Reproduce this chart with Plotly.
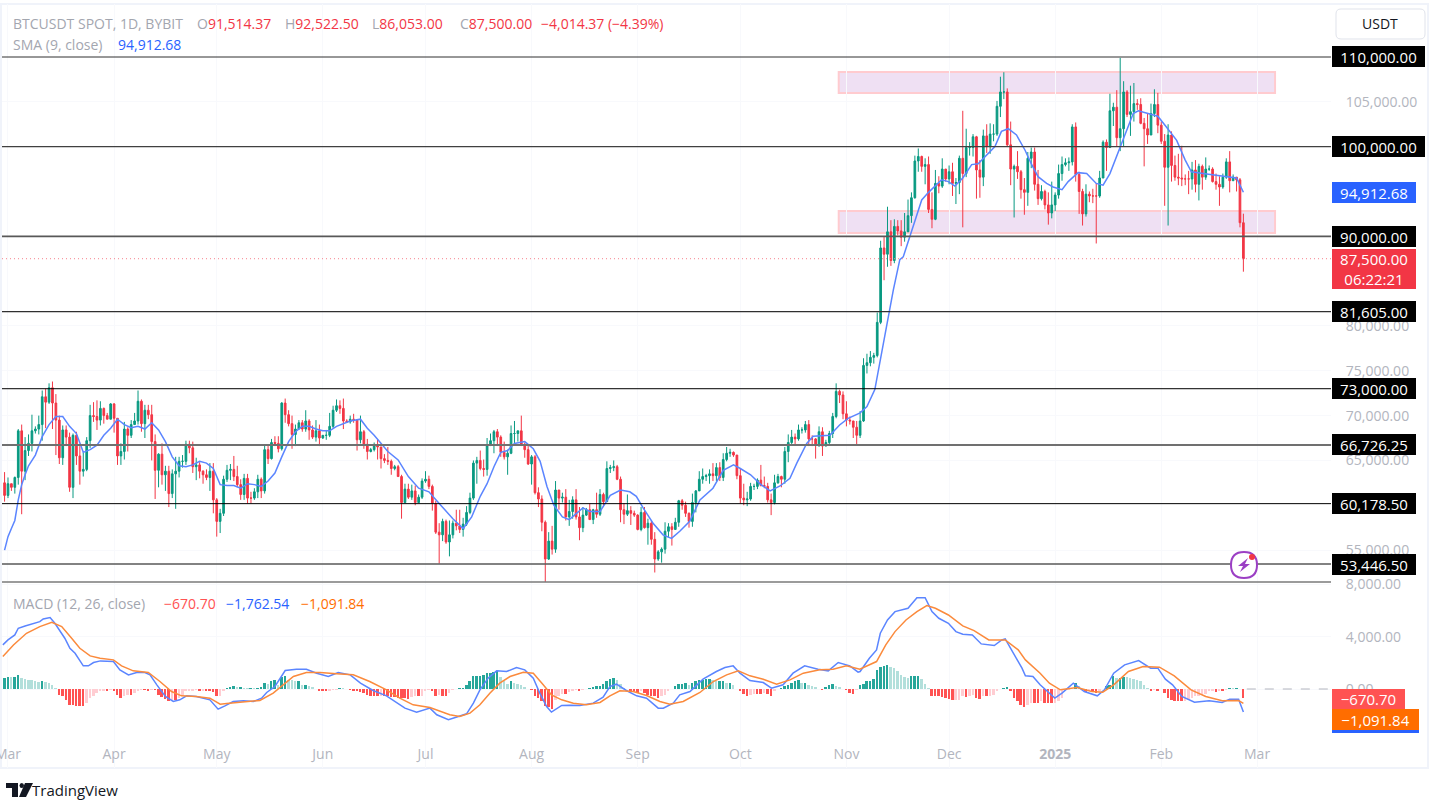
import pandas as pd
import plotly.graph_objects as go

START = pd.Timestamp("2024-03-01")
# Candle values, in thousands of USDT, one row per month, first value = 2024-02-29
opens_k = [62.5,
 61.1,62.4,62.0,63.1,68.3,63.8,66.1,66.9,68.3,68.5,69.0,72.1,71.5,73.1,71.4,69.5,65.3,68.4,67.6,62.0,67.8,65.5,63.8,64.0,67.2,70.0,69.9,69.5,70.8,70.0,69.6,
 71.3,69.7,65.5,66.0,68.5,67.8,69.0,69.4,71.6,69.1,70.6,70.1,67.1,63.9,65.7,63.4,63.8,61.3,63.5,63.8,64.9,64.9,66.8,66.4,64.3,64.5,63.8,63.4,63.1,63.8,
 60.6,58.2,59.1,62.9,63.9,64.0,63.2,62.3,61.2,63.0,60.8,60.8,61.5,62.9,61.6,66.2,65.2,67.0,66.9,66.3,71.4,70.1,69.1,67.9,68.5,69.2,68.5,69.4,68.4,67.6,68.3,
 67.5,67.8,67.8,68.8,70.6,71.1,70.8,69.4,69.3,69.6,69.5,67.3,68.2,66.8,66.0,66.2,66.7,66.5,65.2,65.0,64.9,64.1,64.3,63.2,60.3,61.8,60.9,61.6,60.3,60.9,
 62.7,62.9,62.1,60.2,57.0,56.7,58.2,55.9,56.7,58.0,57.7,57.3,57.9,59.2,60.8,64.7,65.0,64.1,64.0,66.7,67.2,68.2,67.6,65.9,65.4,65.8,68.0,68.0,68.3,66.8,66.2,
 64.6,65.4,61.4,60.7,58.1,54.0,56.0,55.1,61.7,60.8,60.9,58.7,59.3,60.6,58.7,57.5,58.9,59.5,58.4,59.5,59.0,61.2,60.4,64.1,64.2,64.3,62.9,59.5,59.0,59.4,59.1,
 58.9,57.3,59.2,57.5,58.0,56.2,54.0,54.8,55.1,57.1,57.6,57.3,58.1,60.5,60.0,59.1,58.2,60.3,61.6,62.9,63.2,63.3,63.5,63.3,64.2,63.1,65.1,65.8,65.9,65.6,
 63.3,60.8,60.6,60.7,62.1,62.1,62.8,62.2,62.1,60.6,60.3,62.5,63.2,62.9,66.0,67.0,67.6,67.4,68.4,68.4,69.0,67.4,67.4,66.7,68.2,66.6,67.0,68.0,69.9,72.7,72.3,
 70.2,69.5,69.4,68.7,67.8,69.4,75.6,75.9,76.5,76.7,80.4,88.7,88.0,90.5,87.3,91.1,90.6,89.9,90.5,92.3,94.3,98.4,98.9,97.8,98.0,93.0,91.9,95.9,95.6,97.5,
 96.4,97.2,95.9,96.0,98.7,97.0,99.9,99.9,101.1,97.4,96.6,101.2,100.0,101.4,101.4,104.5,106.1,106.1,100.2,97.5,97.8,97.2,95.2,94.9,98.7,99.4,95.8,94.2,95.0,93.5,92.6,
 93.5,94.6,97.0,98.0,98.2,98.3,102.2,96.9,95.0,92.5,94.7,94.5,94.5,94.5,96.5,100.5,99.9,104.0,104.4,101.0,102.0,106.1,103.6,103.9,104.8,104.7,102.6,102.0,101.3,103.7,104.7,
 102.4,100.6,97.7,101.3,97.9,96.6,96.5,96.4,96.4,96.4,97.4,95.8,97.8,96.6,97.5,97.5,96.1,95.8,95.5,96.6,98.3,96.2,96.6,96.3,91.514]
highs_k = [63.7,
 63.1,62.4,63.2,68.5,69.0,67.6,67.9,70.1,68.8,70.0,72.8,73.0,73.6,73.8,72.4,70.0,68.9,68.9,68.1,68.0,68.2,66.6,65.9,67.6,71.2,71.5,71.7,71.6,70.9,70.3,71.4,
 71.4,69.7,66.9,69.3,68.7,69.5,70.3,72.8,71.8,71.2,71.2,71.2,67.9,65.8,66.9,64.4,64.4,64.0,65.4,65.4,65.6,67.2,67.2,67.1,65.3,64.8,63.9,64.0,64.7,64.7,
 60.8,59.6,63.3,64.5,64.6,65.5,64.4,62.9,63.5,63.5,61.5,61.9,63.4,63.1,66.7,66.8,67.4,67.7,67.7,71.5,71.9,70.6,70.0,69.0,69.5,69.5,70.6,69.6,68.9,69.5,69.0,
 67.8,68.4,70.3,71.1,71.8,71.7,71.9,69.6,70.0,70.2,69.6,70.0,68.4,67.4,66.4,67.0,67.3,66.1,65.7,66.5,65.1,64.5,64.5,63.4,62.4,62.4,62.3,62.2,61.2,63.0,
 63.8,63.3,62.3,60.5,58.0,58.5,58.4,58.3,58.3,59.5,59.5,58.6,59.9,61.4,65.0,65.4,66.1,65.1,67.5,68.0,68.4,68.5,67.8,67.1,66.2,68.9,69.4,68.3,70.0,67.0,66.8,
 65.6,65.6,62.0,61.1,58.3,57.0,57.7,62.7,61.7,61.4,61.8,60.6,61.0,61.8,59.8,59.8,59.7,60.2,59.6,61.4,61.8,61.4,64.9,64.5,65.0,64.5,63.2,60.2,61.2,59.9,59.4,
 59.0,59.8,59.8,58.5,58.3,57.0,55.0,55.3,58.1,58.0,58.0,58.6,60.6,60.7,60.4,59.2,61.3,61.7,63.8,64.1,63.5,64.0,64.7,64.7,64.8,65.8,66.5,66.3,66.0,65.6,
 64.1,62.4,61.5,62.5,62.4,63.0,64.5,63.2,62.5,61.3,63.4,63.5,63.3,66.5,67.9,68.4,68.0,69.0,68.7,69.4,69.5,67.8,67.5,68.8,68.7,67.3,68.3,70.3,73.6,72.9,72.7,
 71.6,69.9,69.4,69.4,70.5,76.4,76.9,77.2,77.0,81.5,89.5,90.0,93.3,91.8,91.9,91.8,91.8,92.6,94.1,94.9,99.0,99.8,99.0,98.7,98.9,94.9,97.4,96.7,98.7,97.5,
 97.9,98.2,96.5,99.0,104.0,102.0,100.5,101.4,101.2,98.5,101.9,102.5,102.6,102.5,105.1,107.8,108.3,106.5,102.8,98.0,99.5,97.4,96.5,99.4,99.9,99.9,97.4,95.7,95.2,94.9,96.1,
 94.9,98.0,98.9,98.7,98.8,102.5,102.7,97.2,95.3,95.8,95.0,95.3,95.9,97.3,100.7,100.8,105.9,104.9,106.3,109.9,107.3,106.3,106.8,107.1,105.3,105.4,103.2,103.7,104.8,106.4,106.0,
 102.8,101.4,102.5,101.7,99.0,99.2,100.1,96.9,97.3,98.3,98.5,98.1,98.0,98.8,97.9,97.7,97.0,96.7,97.0,98.7,99.5,96.9,96.6,96.5,92.5225]
lows_k = [60.4,
 60.8,61.6,61.3,62.3,59.0,62.8,65.5,66.0,68.0,67.9,67.2,68.6,71.3,68.5,65.6,64.6,64.5,66.6,61.5,60.8,64.5,62.3,63.2,63.8,66.4,69.3,68.4,68.9,69.1,69.6,69.6,
 68.1,64.5,64.5,65.1,66.0,67.5,69.0,69.0,68.2,67.5,69.6,65.0,60.7,62.0,62.3,61.6,59.8,60.8,59.6,63.1,64.2,64.5,65.8,63.6,62.8,63.0,62.4,62.8,61.6,59.1,
 56.5,56.9,58.8,62.6,62.8,62.7,62.0,60.6,60.6,60.2,60.2,60.6,60.8,60.8,61.3,64.6,65.1,66.6,65.9,66.1,69.2,68.8,66.3,66.6,68.5,68.2,68.2,67.3,67.4,67.1,66.6,
 67.4,67.3,67.6,68.6,70.4,70.2,68.5,69.2,69.1,69.2,66.1,66.9,66.3,65.1,65.9,66.0,65.1,64.1,64.7,64.5,63.4,63.9,63.2,58.5,60.3,60.7,60.6,60.0,60.4,60.7,
 62.5,61.8,59.4,56.8,53.5,56.0,55.7,54.3,56.3,57.2,56.9,56.5,57.7,59.0,60.6,62.4,63.9,63.2,63.3,66.6,65.8,66.6,65.4,65.1,63.4,65.7,66.7,67.1,66.6,65.3,64.5,
 62.3,61.2,59.8,57.1,49.0,53.9,54.5,54.7,59.5,60.3,58.3,57.7,58.5,58.4,56.1,57.0,58.8,58.4,57.9,58.6,58.8,59.8,60.4,63.6,63.8,62.8,58.1,57.9,58.8,57.8,58.7,
 57.2,57.1,57.4,55.6,55.6,52.5,53.8,53.6,54.6,56.4,55.5,57.3,57.6,59.5,58.7,57.5,57.6,59.2,61.6,62.4,62.7,62.4,62.7,62.7,62.7,62.7,64.9,65.4,65.4,62.9,
 60.2,60.0,59.9,60.5,61.7,61.8,62.1,61.9,60.3,58.9,60.1,62.4,62.0,62.4,64.8,66.7,66.7,67.2,68.0,68.1,66.6,66.6,65.2,66.5,65.5,66.6,66.8,67.5,69.7,71.4,69.6,
 68.8,69.0,67.5,66.8,67.5,69.3,74.7,75.5,75.8,76.5,80.2,85.1,86.6,86.7,87.0,90.1,88.9,89.4,90.9,91.5,94.2,97.2,97.2,95.8,92.6,90.9,91.8,94.8,95.4,96.1,
 95.8,94.5,93.6,94.7,91.0,96.6,99.0,98.9,94.2,94.3,95.6,99.3,99.2,100.6,101.2,103.3,105.3,100.0,95.7,92.1,96.4,94.2,92.4,93.4,97.6,95.1,93.5,94.0,93.0,91.3,92.0,
 92.8,94.2,96.2,97.8,97.3,97.9,96.1,92.5,91.2,92.2,93.8,93.7,89.2,94.3,96.5,97.3,99.9,102.3,100.0,99.5,100.0,103.3,101.2,102.8,104.1,102.5,97.8,100.3,101.3,103.3,101.5,
 100.3,93.4,91.2,96.1,96.2,95.7,95.6,95.7,94.7,95.2,94.9,94.0,95.2,96.3,97.3,96.0,95.2,93.4,95.3,96.4,94.9,96.2,95.0,91.0,86.053]
closes_k = [61.1,
 62.4,62.0,63.1,68.3,63.8,66.1,66.9,68.3,68.5,69.0,72.1,71.5,73.1,71.4,69.5,65.3,68.4,67.6,62.0,67.8,65.5,63.8,64.0,67.2,70.0,69.9,69.5,70.8,70.0,69.6,71.3,
 69.7,65.5,66.0,68.5,67.8,69.0,69.4,71.6,69.1,70.6,70.1,67.1,63.9,65.7,63.4,63.8,61.3,63.5,63.8,64.9,64.9,66.8,66.4,64.3,64.5,63.8,63.4,63.1,63.8,60.6,
 58.2,59.1,62.9,63.9,64.0,63.2,62.3,61.2,63.0,60.8,60.8,61.5,62.9,61.6,66.2,65.2,67.0,66.9,66.3,71.4,70.1,69.1,67.9,68.5,69.2,68.5,69.4,68.4,67.6,68.3,67.5,
 67.8,67.8,68.8,70.6,71.1,70.8,69.4,69.3,69.6,69.5,67.3,68.2,66.8,66.0,66.2,66.7,66.5,65.2,65.0,64.9,64.1,64.3,63.2,60.3,61.8,60.9,61.6,60.3,60.9,62.7,
 62.9,62.1,60.2,57.0,56.7,58.2,55.9,56.7,58.0,57.7,57.3,57.9,59.2,60.8,64.7,65.0,64.1,64.0,66.7,67.2,68.2,67.6,65.9,65.4,65.8,68.0,68.0,68.3,66.8,66.2,64.6,
 65.4,61.4,60.7,58.1,54.0,56.0,55.1,61.7,60.8,60.9,58.7,59.3,60.6,58.7,57.5,58.9,59.5,58.4,59.5,59.0,61.2,60.4,64.1,64.2,64.3,62.9,59.5,59.0,59.4,59.1,58.9,
 57.3,59.2,57.5,58.0,56.2,54.0,54.8,55.1,57.1,57.6,57.3,58.1,60.5,60.0,59.1,58.2,60.3,61.6,62.9,63.2,63.3,63.5,63.3,64.2,63.1,65.1,65.8,65.9,65.6,63.3,
 60.8,60.6,60.7,62.1,62.1,62.8,62.2,62.1,60.6,60.3,62.5,63.2,62.9,66.0,67.0,67.6,67.4,68.4,68.4,69.0,67.4,67.4,66.7,68.2,66.6,67.0,68.0,69.9,72.7,72.3,70.2,
 69.5,69.4,68.7,67.8,69.4,75.6,75.9,76.5,76.7,80.4,88.7,88.0,90.5,87.3,91.1,90.6,89.9,90.5,92.3,94.3,98.4,98.9,97.8,98.0,93.0,91.9,95.9,95.6,97.5,96.4,
 97.2,95.9,96.0,98.7,97.0,99.9,99.9,101.1,97.4,96.6,101.2,100.0,101.4,101.4,104.5,106.1,106.1,100.2,97.5,97.8,97.2,95.2,94.9,98.7,99.4,95.8,94.2,95.0,93.5,92.6,93.5,
 94.6,97.0,98.0,98.2,98.3,102.2,96.9,95.0,92.5,94.7,94.5,94.5,94.5,96.5,100.5,99.9,104.0,104.4,101.0,102.0,106.1,103.6,103.9,104.8,104.7,102.6,102.0,101.3,103.7,104.7,102.4,
 100.6,97.7,101.3,97.9,96.6,96.5,96.4,96.4,96.4,97.4,95.8,97.8,96.6,97.5,97.5,96.1,95.8,95.5,96.6,98.3,96.2,96.6,96.3,91.514,87.5]

# SMA(9): day number since 2024-03-01, value in thousands
sma_days = [-1,0,1,2,3,4,5,6,8,10,12,14,16,18,20,22,24,26,28,30,32,34,36,38,40,42,44,46,48,50,52,54,56,58,60,62,64,66,68,70,72,74,76,78,80,82,84,86,88,90,92,94,96,98,100,
 103,105,107,109,111,114,117,120,123,126,130,133,135.5,138,140,142,144,146,148,151,153.5,155.5,157.5,159.5,162,164,166,168,170,173,176,179,181.7,183.6,185.6,188.5,191.4,193.9,196.3,199.2,
 202.2,206,209,212,214,217,220,222.7,225.6,228.5,230.5,233.4,235.3,240.2,243,245.5,249,251,253.3,254.8,256.7,258.7,260.6,
 261.6,263.6,265,267,269,271,272.8,274.8,276.7,279,281.6,283.5,286,288.4,290.3,292.3,294.7,297.2,299,301,303.5,305.4,308,309.8,
 312.7,315.2,318,320,322,324.9,326.9,328.8,330.3,333.7,336,338.5,341.5,344,345.8,349.2,353.1,356,359,361]
sma_k = [55.0,56.5,57.4,58.3,60.6,62.3,63.4,64.4,65.6,67.65,69.0,69.9,69.9,68.8,68.0,65.9,66.2,66.7,67.8,68.6,69.6,69.0,68.65,68.8,68.5,69.2,68.4,67.1,65.4,64.4,64.3,64.5,64.9,64.7,64.1,62.3,62.2,62.2,61.9,62.4,62.3,62.1,62.7,63.6,65.4,67.1,68.2,68.8,68.8,68.5,68.3,68.3,68.8,69.1,69.4,
 69.6,68.6,67.8,66.9,66.0,65.05,63.2,61.9,61.5,60.2,58.5,57.4,58.7,61.0,62.4,64.3,65.9,66.1,66.9,67.1,66.3,64.9,62.1,60.0,58.7,58.4,59.1,59.7,59.3,59.3,61.1,61.7,61.5,61.0,59.7,58.0,56.7,56.3,57.1,58.2,
 60.6,61.9,63.9,64.5,64.1,63.4,62.3,61.6,62.15,63.0,64.7,66.9,67.7,67.8,68.95,69.7,70.3,71.0,72.9,76.2,79.9,84.0,87.4,
 87.7,90.1,91.8,94.05,94.9,95.7,96.3,96.1,95.6,96.5,98.0,98.1,99.1,100.0,101.7,102.0,101.3,99.6,98.1,96.65,95.9,95.5,95.2,96.1,
 97.1,97.0,95.9,95.7,97.0,99.8,101.9,103.7,104.0,103.6,103.4,102.2,100.7,98.5,97.2,97.0,96.8,96.7,96.5,94.91268]

# MACD line and signal line
macd_days = [-1.5,0,2,3,5,7.4,9.3,10.3,12.3,13.7,15.2,16.6,18.1,19.6,22,23.5,25,27,30.8,32.7,35.2,37.6,40,41.5,43.5,46,48.3,50.2,52.2,55,59,61.4,63.4,65.8,68.8,71.7,74.1,75.6,78,81,84.3,87.2,90.2,93.6,96.5,100,103,106.7,110.6,114,116,119.4,
 123.3,125.3,128.7,131.6,134,136,137.9,140.3,142.8,145.7,148.6,151,153.5,155.4,157.4,158.8,161.8,164.2,167.1,171,173.9,175.9,177.8,180.7,183.7,186.6,190,191.5,194.4,196.3,199.3,203.1,207,209.5,211.9,213.9,216.8,220.7,223.1,226.5,229.4,232.8,236.7,239.7,242.6,246,248.4,
 249,251.7,253.8,254.9,257,259.2,263,265.6,268,270,272,274.8,277,279,281.8,284.4,288.2,290.4,291.4,293,296.3,297.3,299.5,301.6,303.8,305.9,308,311.3,314.5,318.3,320.4,323.1,326.3,330.4,333.9,336,338.2,340.3,343,346.7,351,354.8,357,359.6,361]
macd_vals = [3366,3747,4128,4636,4814,5017,5144,5347,5449,5017,4382,3874,3112,2731,1766,1766,2020,2147,2096,1461,1080,1258,1258,1080,318,-571,-952,-825,-520,-571,-825,-1536,-1282,-952,-901,-952,-698,-266,190,1410,1512,1512,1207,953,1258,1080,445,-114,-520,-1079,-1460,-1765,
 -1460,-1968,-2349,-2095,-1892,-1079,-63,826,1385,1334,1639,1461,826,-317,-1333,-1765,-1257,-1231,-1257,-1079,-622,191,369,-114,-520,-698,-1460,-1460,-1079,-444,-190,750,1334,1639,1766,1207,648,496,64,318,1207,1766,1512,1385,2020,1766,1283,
 1334,2350,2985,4255,5271,5906,6160,6973,6973,5906,5398,5017,4382,4179,4128,3442,3315,3747,3823,3112,1588,1004,953,318,-190,-698,-317,445,-190,-520,-63,1207,1842,2172,1588,1588,750,318,-571,-1003,-901,-1028,-774,-774,-1763]
signal_days = [-1.5,1.6,5.4,9.3,12.8,15.7,18.6,21,24,26.9,30.8,33.2,36.6,41,44.4,47.8,50.7,55,59,62,63.9,67.8,73.6,77.5,80.4,83.4,87.2,91.2,96,100.9,105.7,110.6,114.5,118.4,
 123.3,126,129.1,132,135,137.9,140.8,143.7,146.7,150.6,153.5,156.4,158.8,161.8,165.2,169,173,175.9,178.8,182.7,186.6,190.5,193.4,197.3,202.2,206.1,210,213.4,216.8,220.7,224.6,228.5,232.4,237.2,241.1,245,248.9,
 253.8,256.5,259.2,262.4,265.6,268.5,271,274.8,279,282.3,286.6,291.4,295.2,297.3,301.6,304.3,307.5,312.4,316.7,319.9,323.1,327.4,331.7,336.5,340.8,345.7,350,354.8,359.6,361]
signal_vals = [2477,3366,4255,4763,5093,4763,3874,3112,2528,2350,2223,1766,1385,1258,572,-190,-520,-571,-698,-1155,-1104,-1003,-876,-317,318,953,1258,1258,1156,1080,572,-63,-698,-1206,
 -1409,-1663,-1968,-2095,-1841,-1206,-317,445,953,1283,1207,318,-444,-825,-1079,-1206,-1028,-520,-139,-190,-495,-952,-1155,-952,-266,572,1080,1385,1004,750,369,699,1207,1461,1512,1766,1512,
 2096,3366,4382,5271,5906,6363,6160,5652,4814,4458,3747,3747,2985,2223,1207,445,-63,115,-190,-241,318,1334,1715,1664,1004,-63,-571,-901,-876,-1092]

# MACD histogram, one value per day
hist_from_feb29 = [838,914,889,914,1092,838,762,711,660,584,533,584,508,457,330,76,
 -432,-559,-813,-1245,-1245,-1321,-1321,-1321,-1067,-686,-559,-305,-178,-127,-178,-51,-127,-432,-686,-508,-432,-432,-305,-178,-51,-51,-178,-51,-51,-432,-610,-762,-940,-813,-813,-686,-432,-178,-127,-102,-51,
 -178,-127,-178,-178,-254,-559,-508,-178,
 76,127,203,127,152,76,51,76,51,76,127,457,
 406,584,711,330,914,1016,711,660,584,584,330,330,203,127,0,
 -102,-127,-178,-102,-51,-25,76,51,0,-51,-102,-127,-254,-305,-432,-559,-559,-559,-508,-559,-559,-610,-610,-686,-686,-686,-762,-610,-559,-559,-508,-178]
hist_from_jul2 = [-51,-178,-508,-432,-508,-508,-305,-51,0,25,76,330,584,1016,1016,1016,1092,1219,1219,1270,1346,914,584,406,584,457,406,330,127,0,
 -51,-508,-686,-940,-1321,-1372,-1499,-813,-508,-356,-356,-254,-127,-51,-178,-51,0,51,127,203,254,406,584,787,838,711,381,76,0,
 -102,-178,-305,-178,-305,-432,-508,-508,-686,-559,-432,-102,0,203,406,406,457,330,457,584,660,711,762,762,711,584,584,584,457,457,330,0,
 -178,-356,-508,-432,-356,-356,-356,-305,-356,-508,-102,0,76,203,330,457,584,660,457,457,330,203,127,0,-51,127,330,406,254,127,0,-51,-305,-356,-51]
hist_from_nov5 = [330,406,584,584,762,1473,1676,1764,1854,1676,1600,1346,1092,914,838,965,965,965,762,406,76,
 -508,-508,-508,-610,-686,-762,-864,-838,-813,-559,-610,-508,-432,-686,-762,-559,-559,-500,-432,-178,0,76,152,-178,-686,-940,-1194,-1372,-1250,-1067,-1067,-1067,-940,-1067,-1067,-1067,-1030,-940,-686,-178,-51,0,457,203,-51,-254,-178,-254,-305,-178,0,254,330,965,838,838,914,880,838,762,660,584,330,76,-102,-51,-127,0,-305,-686,-813,-940,-940,-940,-900,-813,-686,-559,-508,-432,-356,-178,-127,-254,-178,-178,-51,76,25,25,0,-671]

level_values = [110000,100000,90000,81605,73000,66726.25,60178.5,53446.5]
level_labels = ["110,000.00","100,000.00","90,000.00","81,605.00","73,000.00","66,726.25","60,178.50","53,446.50"]
price_ticks = [105000,80000,75000,70000,65000,55000]
macd_ticks = [8000,4000,0]
month_dates = ["2024-03-01","2024-04-01","2024-05-01","2024-06-01","2024-07-01","2024-08-01","2024-09-01","2024-10-01","2024-11-01","2024-12-01","2025-01-01","2025-02-01","2025-03-01"]
month_labels = ["Mar","Apr","May","Jun","Jul","Aug","Sep","Oct","Nov","Dec","<b>2025</b>","Feb","Mar"]
zones_k = [(90.368,92.822),(105.984,108.327)]
zone_dates = ("2024-10-29 18:00","2025-03-06 06:00")

FONT = "Open Sans"
UP, DOWN = "#089981", "#F23645"
W, H, L, R, T, B = 1433, 800, 2, 102, 4, 32
PX = W - L - R
PY = H - T - B
px = lambda X: (X - L) / PX
py = lambda Y: (H - B - Y) / PY


def day(d):
    return START + pd.to_timedelta(d, unit="D")


dates = [day(i - 1) for i in range(len(closes_k))]
k = lambda seq: [v * 1000 for v in seq]

hist_x, hist_y = [], []
for first, seg in ((-1, hist_from_feb29), (123, hist_from_jul2), (249, hist_from_nov5)):
    for i, v in enumerate(seg):
        hist_x.append(day(first + i))
        hist_y.append(v)
hist_colors = []
prev = 0
for v in hist_y:
    if v >= 0:
        hist_colors.append("#26A69A" if v >= prev else "#B2DFDB")
    else:
        hist_colors.append("#FF5252" if v <= prev else "#FFCDD2")
    prev = v

fig = go.Figure()
fig.add_trace(go.Candlestick(
    x=dates, open=k(opens_k), high=k(highs_k), low=k(lows_k), close=k(closes_k),
    increasing=dict(line=dict(color=UP, width=1), fillcolor=UP),
    decreasing=dict(line=dict(color=DOWN, width=1), fillcolor=DOWN),
    whiskerwidth=0, xaxis="x", yaxis="y", showlegend=False, name="BTCUSDT"))
fig.add_trace(go.Scatter(x=[day(d) for d in sma_days], y=k(sma_k), mode="lines",
                         line=dict(color="#5B85FF", width=1.5), xaxis="x", yaxis="y", showlegend=False, name="SMA"))
fig.add_trace(go.Bar(x=hist_x, y=hist_y, marker=dict(color=hist_colors, line=dict(width=0)),
                     width=0.58 * 86400000, xaxis="x2", yaxis="y2", showlegend=False, name="Histogram"))
fig.add_trace(go.Scatter(x=[day(d) for d in macd_days], y=macd_vals, mode="lines",
                         line=dict(color="#5B85FF", width=1.5), xaxis="x2", yaxis="y2", showlegend=False, name="MACD"))
fig.add_trace(go.Scatter(x=[day(d) for d in signal_days], y=signal_vals, mode="lines",
                         line=dict(color="#FB8A3C", width=1.5), xaxis="x2", yaxis="y2", showlegend=False, name="Signal"))

shapes = []
# supply / demand zones
for lo, hi in zones_k:
    shapes.append(dict(type="rect", xref="x", yref="y", x0=zone_dates[0], x1=zone_dates[1], y0=lo * 1000, y1=hi * 1000,
                       fillcolor="#EFE0F3", line=dict(color="#FFCBCF", width=2), layer="below"))
# horizontal levels
level_style = {110000: ("#303030", 1), 100000: ("#404040", 1.4), 90000: ("#585858", 1.8), 81605: ("#303030", 1.2),
               73000: ("#000000", 1), 66726.25: ("#707070", 2), 60178.5: ("#000000", 1), 53446.5: ("#585858", 1.6)}
for v in level_values:
    c, w = level_style[v]
    shapes.append(dict(type="line", xref="paper", yref="y", x0=0, x1=1, y0=v, y1=v, line=dict(color=c, width=w), layer="above"))
# last price dotted line
shapes.append(dict(type="line", xref="paper", yref="y", x0=0, x1=1, y0=87500, y1=87500,
                   line=dict(color="#F7808C", width=1, dash="1px,3px"), layer="above"))
# zero line of MACD, right of the last bar
shapes.append(dict(type="line", xref="x2", yref="y2", x0="2025-02-26", x1="2025-03-29", y0=0, y1=0,
                   line=dict(color="#B2B5BE", width=1, dash="dash"), layer="above"))
# pane separator and frame
shapes.append(dict(type="line", xref="paper", yref="paper", x0=0, x1=1, y0=py(582), y1=py(582),
                   line=dict(color="#7A7A7A", width=1.5), layer="above"))
shapes.append(dict(type="rect", xref="paper", yref="paper", x0=px(1), x1=px(1428), y0=py(768), y1=py(4),
                   line=dict(color="#F0F3FA", width=2), layer="below"))
# USDT button
def rrect(x0, y0, x1, y1, r):
    p = lambda X, Y: f"{px(X):.5f},{py(Y):.5f}"
    return (f"M{p(x0 + r, y0)} L{p(x1 - r, y0)} Q{p(x1, y0)} {p(x1, y0 + r)} L{p(x1, y1 - r)} Q{p(x1, y1)} {p(x1 - r, y1)} "
            f"L{p(x0 + r, y1)} Q{p(x0, y1)} {p(x0, y1 - r)} L{p(x0, y0 + r)} Q{p(x0, y0)} {p(x0 + r, y0)} Z")
shapes.append(dict(type="path", xref="paper", yref="paper", path=rrect(1336, 9, 1425, 39, 5),
                   line=dict(color="#E0E3EB", width=1), fillcolor="#FFFFFF", layer="above"))
# bolt icon
cx, cy = 1244, 565
shapes.append(dict(type="path", xref="paper", yref="paper", layer="above", fillcolor="#FFFFFF",
                   line=dict(color="#9B3FC4", width=2),
                   path=f"M{px(cx-13):.5f},{py(cy):.5f} Q{px(cx-13):.5f},{py(cy-13):.5f} {px(cx):.5f},{py(cy-13):.5f} "
                        f"Q{px(cx+13):.5f},{py(cy-13):.5f} {px(cx+13):.5f},{py(cy):.5f} "
                        f"Q{px(cx+13):.5f},{py(cy+13):.5f} {px(cx):.5f},{py(cy+13):.5f} "
                        f"Q{px(cx-13):.5f},{py(cy+13):.5f} {px(cx-13):.5f},{py(cy):.5f} Z"))
bolt = [(cx + 4, cy - 7), (cx - 6, cy + 1), (cx - 1, cy + 1), (cx - 4, cy + 7), (cx + 6, cy - 1), (cx + 1, cy - 1)]
shapes.append(dict(type="path", xref="paper", yref="paper", layer="above", fillcolor="#9B3FC4", line=dict(width=0),
                   path="M" + " L".join(f"{px(a):.5f},{py(b):.5f}" for a, b in bolt) + " Z"))
shapes.append(dict(type="circle", xref="paper", yref="paper", layer="above", fillcolor="#F23645", line=dict(width=0),
                   x0=px(cx + 5), x1=px(cx + 11), y0=py(cy - 5), y1=py(cy - 11)))
# TradingView mark
for poly in ([(6, 783), (18, 783), (18, 797), (12, 797), (12, 788), (6, 788)],
             [(25, 783), (33, 783), (26, 797), (19, 797)]):
    shapes.append(dict(type="path", xref="paper", yref="paper", layer="above", fillcolor="#131722", line=dict(width=0),
                       path="M" + " L".join(f"{px(a):.5f},{py(b):.5f}" for a, b in poly) + " Z"))
shapes.append(dict(type="circle", xref="paper", yref="paper", layer="above", fillcolor="#131722", line=dict(width=0),
                   x0=px(19.5), x1=px(24), y0=py(783), y1=py(788)))

ann = []
def text(X, Y, s, color, size=14, anchor="left", **kw):
    ann.append(dict(xref="paper", yref="paper", x=px(X - (1 if anchor == "left" else 0)), y=py(Y), text=s, showarrow=False, xanchor=anchor, yanchor="middle",
                    font=dict(family=FONT, size=size, color=color), **kw))

def box(X0, X1, Y0, Y1, s, bg, color="#FFFFFF", size=15):
    ann.append(dict(xref="paper", yref="paper", x=px(X0), y=py((Y0 + Y1) / 2), text=s, showarrow=False, xanchor="left", yanchor="middle",
                    width=X1 - X0, height=Y1 - Y0, bgcolor=bg, align="center", valign="middle", borderpad=0, borderwidth=0,
                    font=dict(family=FONT, size=size, color=color)))

GRAY = "#A3A6AF"
text(12, 23, "BTCUSDT SPOT, 1D, BYBIT", GRAY)
for X, letter, val in ((196, "O", "91,514.37"), (284, "H", "92,522.50"), (371, "L", "86,053.00"), (459, "C", "87,500.00")):
    text(X, 23, f"<span style='color:{GRAY}'>{letter}</span>{val}", DOWN)
text(540, 23, "−4,014.37 (−4.39%)", DOWN)
text(12, 44, "SMA (9, close)", GRAY)
text(117, 44, "94,912.68", "#2962FF")
text(12, 603, "MACD (12, 26, close)", GRAY)
text(163, 603, "−670.70", "#FF5252")
text(225, 603, "−1,762.54", "#2962FF")
text(300, 603, "−1,091.84", "#FF6D00")
text(1380, 24, "USDT", "#131722", anchor="center")
text(31, 790, "TradingView", "#131722", size=15)

for v, lab in zip(level_values, level_labels):
    Yc = 57 + (110000 - v) * 0.008965
    X1 = 1425 if v >= 100000 else 1416
    box(1332, X1, Yc - 10.5, Yc + 10.5, lab, "#000000")
box(1332, 1416, 182, 203, "94,912.68", "#2962FF")
box(1332, 1416, 249, 289, "87,500.00<br>06:22:21", "#F23645")
box(1332, 1419, 709, 733, "", "#2962FF")
box(1332, 1405, 689, 709, "−670.70", "#FF5252")
box(1332, 1419, 709, 730, "−1,091.84", "#FF6D00")

sep = (H - B - 582) / PY
xrange = [str(day(-1.75)), str(day(386.6))]
tick_font = dict(family=FONT, size=14, color="#B2B5BE")
fig.update_layout(
    width=W, height=H, margin=dict(l=L, r=R, t=T, b=B), paper_bgcolor="#FFFFFF", plot_bgcolor="#FFFFFF",
    bargap=0, shapes=shapes, annotations=ann, hovermode=False, showlegend=False,
    xaxis=dict(domain=[0, 1], anchor="y", range=xrange, rangeslider=dict(visible=False), tickvals=month_dates, ticktext=month_labels, automargin=False,
               showticklabels=False, showgrid=True, gridcolor="#F8F9FC", zeroline=False, showline=False, ticks=""),
    xaxis2=dict(domain=[0, 1], anchor="y2", range=xrange, tickvals=month_dates, ticktext=month_labels, ticklabelposition="inside", ticklabeloverflow="allow", automargin=False,
                tickfont=tick_font, showgrid=True, gridcolor="#F8F9FC", zeroline=False, showline=False, ticks="inside", ticklen=6, tickcolor="rgba(0,0,0,0)"),
    yaxis=dict(domain=[sep, 1], anchor="x", side="right", range=[51439, 115912], tickvals=price_ticks, tickformat=",.2f", tickfont=tick_font, automargin=False,
               ticks="outside", ticklen=11, tickcolor="rgba(0,0,0,0)", showgrid=True, gridcolor="#F8F9FC", zeroline=False, showline=False),
    yaxis2=dict(domain=[0, sep], anchor="x2", side="right", range=[-6030, 8168], tickvals=macd_ticks, tickformat=",.2f", tickfont=tick_font, automargin=False,
                ticks="outside", ticklen=11, tickcolor="rgba(0,0,0,0)", showgrid=True, gridcolor="#F8F9FC", zeroline=False, showline=False),
)
fig.write_html("out.html", config=dict(displayModeBar=False), post_script="document.body.style.margin='0';document.body.style.overflow='hidden';")
